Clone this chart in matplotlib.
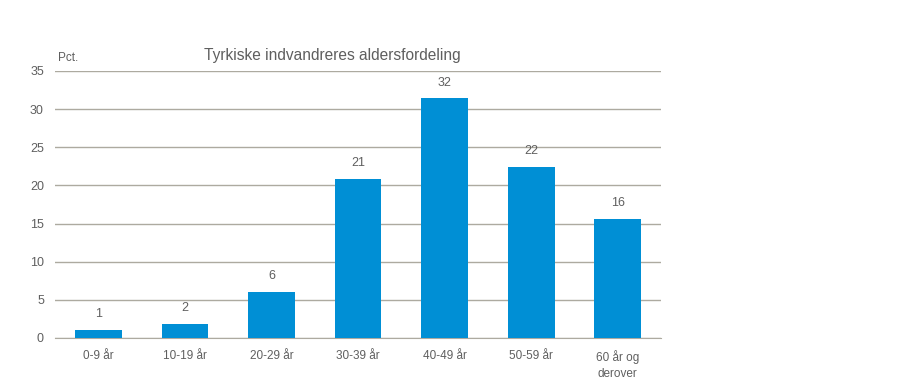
import matplotlib.pyplot as plt

# data
categories = ['0-9 år', '10-19 år', '20-29 år', '30-39 år', '40-49 år', '50-59 år', '60 år og\nderover']
values = [1.0, 1.8, 6.0, 20.8, 31.4, 22.4, 15.6]
labels = ['1', '2', '6', '21', '32', '22', '16']
yticks = [0, 5, 10, 15, 20, 25, 30, 35]

plt.rcParams['font.family'] = ['Liberation Sans Narrow', 'Liberation Sans', 'DejaVu Sans']
text_col = '#5f5f5f'
grid_col = '#ADAAA0'

fig = plt.figure(figsize=(9.05, 3.86), dpi=100)
ax = fig.add_axes([0.0608, 0.1244, 0.6696, 0.6917])

x = range(len(categories))
ax.bar(x, values, width=0.54, color='#008FD5', zorder=3)
for xi, v, lab in zip(x, values, labels):
    ax.text(xi, v + 1.3, lab, ha='center', va='bottom', fontsize=9, color=text_col)

ax.set_xlim(-0.5, len(categories) - 0.5)
ax.set_ylim(0, 35)
ax.set_yticks(yticks)
ax.set_xticks(list(x))
ax.set_xticklabels(categories, fontsize=8.5, color=text_col, linespacing=1.35)
ax.tick_params(axis='y', labelsize=9, labelcolor=text_col, length=0, pad=8)
ax.tick_params(axis='x', length=0, pad=9)
ax.grid(axis='y', color=grid_col, linewidth=1, zorder=0)
for s in ['top', 'right', 'left']:
    ax.spines[s].set_visible(False)
ax.spines['bottom'].set_color(grid_col)

fig.text(0.0641, 0.851, 'Pct.', fontsize=8.5, color=text_col, va='center', ha='left')
fig.text(0.367, 0.857, 'Tyrkiske indvandreres aldersfordeling', fontsize=11.2,
         color=text_col, ha='center', va='center')

fig.savefig('out.png', dpi=100)
